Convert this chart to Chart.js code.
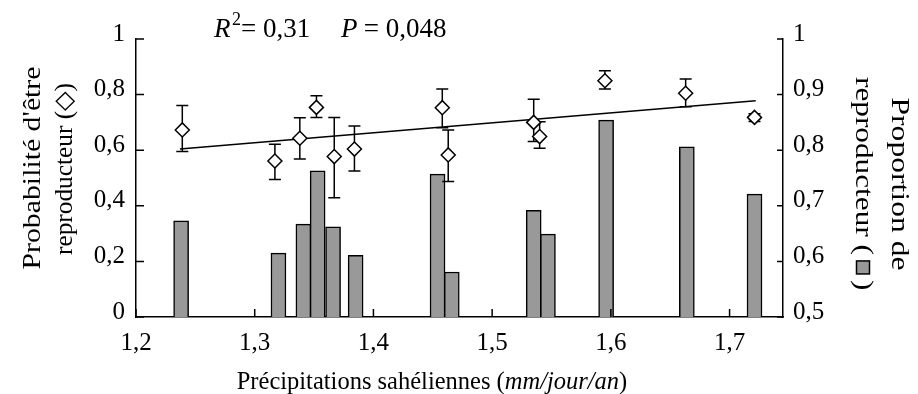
<!DOCTYPE html>
<html>
<head>
<meta charset="utf-8">
<script src="https://cdn.jsdelivr.net/npm/chart.js@4"></script>
<style>
  body { margin: 0; background: #fff; }
</style>
</head>
<body>
<canvas id="chart" width="918" height="394"></canvas>
<script>
// Données
const barX = [1.238, 1.320, 1.341, 1.353, 1.366, 1.385, 1.454, 1.466, 1.535, 1.547, 1.596, 1.664, 1.721];
const barProp = [0.673, 0.615, 0.667, 0.763, 0.662, 0.611, 0.757, 0.581, 0.692, 0.649, 0.854, 0.806, 0.721];

const probX = [1.239, 1.317, 1.338, 1.352, 1.367, 1.384, 1.458, 1.463, 1.535, 1.540, 1.595, 1.663, 1.721];
const probY = [0.673, 0.561, 0.643, 0.754, 0.577, 0.604, 0.753, 0.583, 0.700, 0.649, 0.850, 0.805, 0.718];
const probHi = [0.761, 0.621, 0.717, 0.796, 0.718, 0.687, 0.820, 0.673, 0.783, 0.702, 0.886, 0.856, 0.731];
const probLo = [0.595, 0.495, 0.568, 0.718, 0.429, 0.525, 0.681, 0.487, 0.631, 0.607, 0.820, 0.756, 0.703];

// droite de régression (extrémités)
const regX = [1.237, 1.722];
const regY = [0.604, 0.778];

const xTicks = [1.2, 1.3, 1.4, 1.5, 1.6, 1.7];
const yTicks = [0, 0.2, 0.4, 0.6, 0.8, 1];
const y2Ticks = [0.5, 0.6, 0.7, 0.8, 0.9, 1];

const FONT = "'Liberation Serif', 'Times New Roman', serif";
const fmt = v => (Math.round(v * 10) / 10).toString().replace('.', ',');

// petites graduations vers l'intérieur
const innerTicks = {
  id: 'innerTicks',
  afterDatasetsDraw(chart) {
    const ctx = chart.ctx, a = chart.chartArea;
    const sx = chart.scales.x, sy = chart.scales.y, sy2 = chart.scales.y2;
    ctx.save();
    ctx.strokeStyle = '#000';
    ctx.lineWidth = 1.5;
    ctx.beginPath();
    sx.ticks.forEach(t => {
      const px = sx.getPixelForValue(t.value);
      ctx.moveTo(px, a.bottom); ctx.lineTo(px, a.bottom - 8);
    });
    sy.ticks.forEach(t => {
      const py = sy.getPixelForValue(t.value);
      ctx.moveTo(a.left, py); ctx.lineTo(a.left + 8, py);
    });
    sy2.ticks.forEach(t => {
      const py = sy2.getPixelForValue(t.value);
      ctx.moveTo(a.right, py); ctx.lineTo(a.right - 6, py);
    });
    ctx.stroke();
    ctx.restore();
  }
};

// barres d'erreur sous les losanges
const errorBars = {
  id: 'errorBars',
  beforeDatasetDraw(chart, args) {
    if (chart.data.datasets[args.index].label !== 'prob') return;
    const ctx = chart.ctx, sx = chart.scales.x, sy = chart.scales.y;
    ctx.save();
    ctx.strokeStyle = '#000';
    ctx.lineWidth = 1.5;
    ctx.beginPath();
    probX.forEach((x, i) => {
      const px = sx.getPixelForValue(x);
      const hi = sy.getPixelForValue(probHi[i]);
      const lo = sy.getPixelForValue(probLo[i]);
      ctx.moveTo(px, hi); ctx.lineTo(px, lo);
      ctx.moveTo(px - 6, hi); ctx.lineTo(px + 6, hi);
      ctx.moveTo(px - 6, lo); ctx.lineTo(px + 6, lo);
    });
    ctx.stroke();
    ctx.restore();
  }
};

// texte tourné, étiré à une longueur donnée
function rotText(ctx, text, cx, cy, rot, len) {
  ctx.save();
  ctx.translate(cx, cy);
  ctx.rotate(rot);
  const w = ctx.measureText(text).width;
  ctx.scale(len / w, 1);
  ctx.fillText(text, 0, 0);
  ctx.restore();
}

// textes : titres d'axes et statistiques
const labels = {
  id: 'labels',
  afterDraw(chart) {
    const ctx = chart.ctx;
    ctx.save();
    ctx.fillStyle = '#000';
    ctx.textBaseline = 'alphabetic';
    ctx.textAlign = 'left';

    // R2 et P
    const yb = 37;
    ctx.font = 'italic 27px ' + FONT;
    ctx.fillText('R', 214, yb);
    ctx.font = '18px ' + FONT;
    ctx.fillText('2', 232, yb - 12);
    ctx.font = '27px ' + FONT;
    ctx.fillText('= 0,31', 241, yb);
    ctx.font = 'italic 27px ' + FONT;
    ctx.fillText('P', 341, yb);
    ctx.font = '27px ' + FONT;
    ctx.fillText(' = 0,048', 357, yb);

    // titre de l'axe x
    const t1 = 'Précipitations sahéliennes (';
    const t2 = 'mm/jour/an';
    const t3 = ')';
    const fs = '24.5px ';
    ctx.font = fs + FONT;
    const w1 = ctx.measureText(t1).width, w3 = ctx.measureText(t3).width;
    ctx.font = 'italic ' + fs + FONT;
    const w2 = ctx.measureText(t2).width;
    let tx = 432 - (w1 + w2 + w3) / 2;
    const ty = 389;
    ctx.font = fs + FONT;
    ctx.fillText(t1, tx, ty); tx += w1;
    ctx.font = 'italic ' + fs + FONT;
    ctx.fillText(t2, tx, ty); tx += w2;
    ctx.font = fs + FONT;
    ctx.fillText(t3, tx, ty);

    // titre de l'axe gauche
    ctx.textAlign = 'center';
    ctx.textBaseline = 'middle';
    ctx.font = '26px ' + FONT;
    rotText(ctx, "Probabilité d'être", 33, 168, -Math.PI / 2, 203);
    rotText(ctx, 'reproducteur (\u25C7)', 65, 169, -Math.PI / 2, 172);

    // titre de l'axe droit
    rotText(ctx, 'Proportion de', 899, 184, Math.PI / 2, 173);

    ctx.save();
    ctx.translate(863, 185);
    ctx.rotate(Math.PI / 2);
    const a = 'reproducteur (', b = ')';
    const wa = ctx.measureText(a).width, wb = ctx.measureText(b).width;
    const box = 13, gap = 5;
    const total = wa + gap + box + gap + wb;
    const k = 216 / total;
    let sx = -216 / 2;
    ctx.textAlign = 'left';
    ctx.save(); ctx.translate(sx, 0); ctx.scale(k, 1); ctx.fillText(a, 0, 0); ctx.restore();
    sx += (wa + gap) * k;
    ctx.fillStyle = '#999';
    ctx.fillRect(sx, -box / 2, box, box);
    ctx.strokeStyle = '#000';
    ctx.lineWidth = 1.5;
    ctx.strokeRect(sx, -box / 2, box, box);
    sx += box + gap * k;
    ctx.fillStyle = '#000';
    ctx.save(); ctx.translate(sx, 0); ctx.scale(k, 1); ctx.fillText(b, 0, 0); ctx.restore();
    ctx.restore();

    ctx.restore();
  }
};

const ctx = document.getElementById('chart').getContext('2d');

new Chart(ctx, {
  data: {
    datasets: [
      {
        type: 'line',
        label: 'prob',
        data: probX.map((x, i) => ({ x: x, y: probY[i] })),
        showLine: false,
        pointStyle: 'rectRot',
        pointRadius: 7,
        pointBackgroundColor: '#fff',
        pointBorderColor: '#000',
        pointBorderWidth: 1.5,
        yAxisID: 'y',
        order: 1
      },
      {
        type: 'line',
        label: 'reg',
        data: regX.map((x, i) => ({ x: x, y: regY[i] })),
        borderColor: '#000',
        borderWidth: 1.5,
        pointRadius: 0,
        fill: false,
        yAxisID: 'y',
        order: 2
      },
      {
        type: 'bar',
        label: 'prop',
        data: barX.map((x, i) => ({ x: x, y: barProp[i] })),
        backgroundColor: '#999999',
        borderColor: '#000',
        borderWidth: 1.5,
        barThickness: 15,
        yAxisID: 'y2',
        order: 3
      }
    ]
  },
  options: {
    responsive: false,
    animation: false,
    layout: { padding: { top: 39, left: 0, right: 0, bottom: 0 } },
    plugins: {
      legend: { display: false },
      tooltip: { enabled: false }
    },
    scales: {
      x: {
        type: 'linear',
        offset: false,
        min: 1.2,
        max: 1.745,
        afterBuildTicks: s => { s.ticks = xTicks.map(v => ({ value: v })); },
        afterFit: s => { s.height = 77; },
        grid: { display: false, drawTicks: false, offset: false },
        border: { color: '#000', width: 1.5 },
        ticks: {
          color: '#000',
          font: { family: FONT, size: 25 },
          padding: 11,
          callback: v => fmt(v)
        }
      },
      y: {
        position: 'left',
        min: 0,
        max: 1,
        afterBuildTicks: s => { s.ticks = yTicks.map(v => ({ value: v })); },
        afterFit: s => { s.width = 136; },
        grid: { display: false, drawTicks: false },
        border: { color: '#000', width: 1.5 },
        ticks: {
          color: '#000',
          font: { family: FONT, size: 25 },
          padding: 11,
          labelOffset: -5,
          callback: v => fmt(v)
        }
      },
      y2: {
        position: 'right',
        min: 0.5,
        max: 1,
        afterBuildTicks: s => { s.ticks = y2Ticks.map(v => ({ value: v })); },
        afterFit: s => { s.width = 135; },
        grid: { display: false, drawTicks: false },
        border: { color: '#000', width: 1.5 },
        ticks: {
          color: '#000',
          font: { family: FONT, size: 25 },
          padding: 10,
          labelOffset: -5,
          callback: v => fmt(v)
        }
      }
    }
  },
  plugins: [innerTicks, errorBars, labels]
});
</script>
</body>
</html>
